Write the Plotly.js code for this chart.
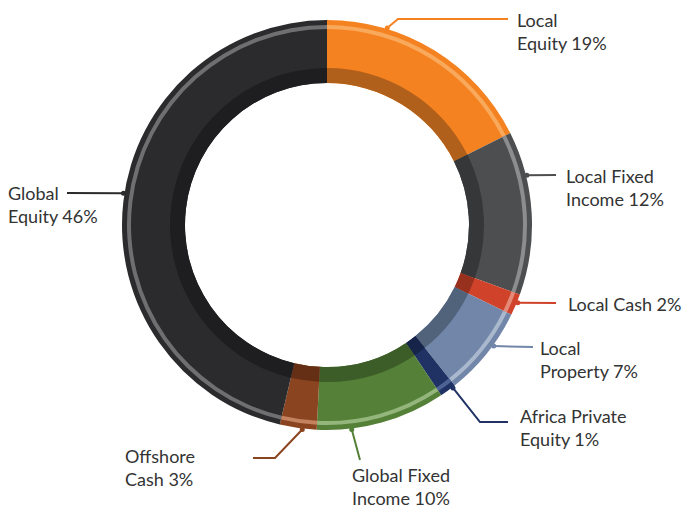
<!DOCTYPE html>
<html>
<head>
<meta charset="utf-8">
<script src="https://cdn.plot.ly/plotly-3.0.1.min.js"></script>
<style>html,body{margin:0;padding:0;background:#fff;}#chart{width:687px;height:509px;}</style>
</head>
<body>
<div id="chart"></div>
<script>
// ---- data ----
const categories = ['Local Equity','Local Fixed Income','Local Cash','Local Property','Africa Private Equity','Global Fixed Income','Offshore Cash','Global Equity'];
const shares = [17.6, 12.9, 1.7, 7.1, 1.3, 10.2, 2.9, 46.3];   // drawn slice sizes read from the ring
const labelText = ['Local<br>Equity 19%','Local Fixed<br>Income 12%','Local Cash 2%','Local<br>Property 7%','Africa Private<br>Equity 1%','Global Fixed<br>Income 10%','Offshore<br>Cash 3%','Global<br>Equity 46%'];

// ---- styles ----
const mainColors  = ['#F58220','#4D4E50','#D0432A','#7186A8','#1F3263','#548038','#8B4420','#2B2B2D'];
const innerColors = ['#B0601A','#363738','#98301E','#51627B','#16244A','#3C5C28','#652F16','#1E1E20'];
const stripeColors= ['#F9A95C','#8C8D8F','#E48A78','#A9B8CD','#4E6294','#94B67C','#C4825F','#6F6F71'];

const W = 687, H = 509, CX = 327, CY = 225;
const R_OUT = 205, R_HOLE = 142, R_BAND = 157, R_S1 = 196, R_S2 = 200;

function dom(r){ return {x:[(CX-r)/W,(CX+r)/W], y:[1-(CY+r)/H, 1-(CY-r)/H]}; }
function pie(r, hole, colors){
  return {type:'pie', labels:categories, values:shares, sort:false, direction:'clockwise', rotation:0,
    hole:hole, domain:dom(r), marker:{colors:colors, line:{width:0}}, textinfo:'none',
    hoverinfo:'label+percent', showlegend:false};
}
const traces = [ pie(R_OUT, R_HOLE/R_OUT, mainColors), pie(R_BAND, R_HOLE/R_BAND, innerColors), pie(R_S2, R_S1/R_S2, stripeColors) ];

// ---- label layout (leader anchor angle in degrees clockwise from top, pixel route, text spot) ----
const leader = [
  {ang:17,    pts:[[398,19],[508,19]],  tx:516, ty:31},
  {ang:76,    pts:[[556,175]],          tx:565, ty:188},
  {ang:112.2, pts:[[556,303]],          tx:567, ty:304},
  {ang:126,   pts:[[533,347]],          tx:539, ty:359},
  {ang:142.3, pts:[[480,422],[508,422]],tx:519, ty:427},
  {ang:173.1, pts:[[360,460]],          tx:351, ty:486},
  {ang:186.9, pts:[[275,458],[253,458]],tx:124, ty:467},
  {ang:278.9, pts:[[67,193]],           tx:7,   ty:205}
];
const px = x => x/W, py = y => 1 - y/H;
const shapes = [], annotations = [];
leader.forEach((L,i)=>{
  const a = L.ang*Math.PI/180, r = 206;
  const sx = CX + r*Math.sin(a), sy = CY - r*Math.cos(a);
  let d = 'M '+px(sx)+' '+py(sy);
  L.pts.forEach(p=>{ d += ' L '+px(p[0])+' '+py(p[1]); });
  shapes.push({type:'path', xref:'paper', yref:'paper', path:d, line:{color:mainColors[i], width:2}});
  shapes.push({type:'circle', xref:'paper', yref:'paper', x0:px(sx-2.5), x1:px(sx+2.5), y0:py(sy+2.5), y1:py(sy-2.5),
    fillcolor:mainColors[i], line:{width:0}});
  annotations.push({xref:'paper', yref:'paper', x:px(L.tx), y:py(L.ty), xanchor:'left', yanchor:'middle', align:'left',
    borderpad:0, showarrow:false, text:labelText[i], font:{family:'Lato, "Open Sans", sans-serif', size:18, color:'#333333'}});
});

Plotly.newPlot('chart', traces, {
  width:W, height:H, margin:{l:0,r:0,t:0,b:0}, paper_bgcolor:'#ffffff', plot_bgcolor:'#ffffff',
  shapes:shapes, annotations:annotations, showlegend:false
}, {displayModeBar:false, staticPlot:true});
</script>
</body>
</html>
